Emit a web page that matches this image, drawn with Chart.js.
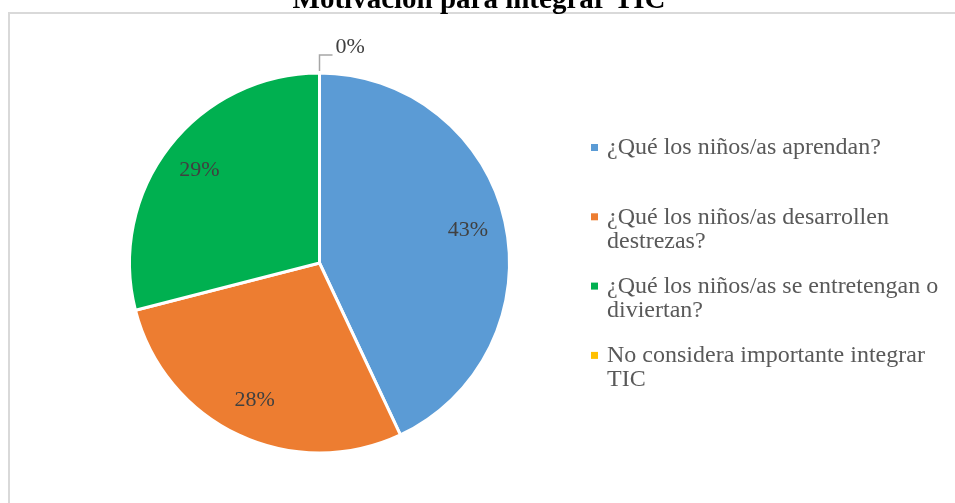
<!DOCTYPE html>
<html>
<head>
<meta charset="utf-8">
<script src="https://cdn.jsdelivr.net/npm/chart.js@4.4.0/dist/chart.umd.min.js"></script>
<style>
  html, body { margin: 0; padding: 0; background: #ffffff; overflow: hidden; }
  #wrap { position: relative; width: 955px; height: 503px; }
</style>
</head>
<body>
<div id="wrap"><canvas id="c" width="955" height="503"></canvas></div>
<script>
const chartTitle = "Motivación para integrar TIC";
const categories = [
  "¿Qué los niños/as aprendan?",
  "¿Qué los niños/as desarrollen destrezas?",
  "¿Qué los niños/as se entretengan o diviertan?",
  "No considera importante integrar TIC"
];
const percentages = [43, 28, 29, 0];
const sliceColors = ["#5B9BD5", "#ED7D31", "#00B050", "#FFC000"];

const SERIF = "'Liberation Serif', 'Times New Roman', serif";

const decorPlugin = {
  id: 'decor',
  beforeDraw(chart) {
    const ctx = chart.ctx;
    ctx.save();
    ctx.fillStyle = '#ffffff';
    ctx.fillRect(0, 0, chart.width, chart.height);
    // outer chart frame (top and left visible)
    ctx.strokeStyle = '#d9d9d9';
    ctx.lineWidth = 2;
    ctx.beginPath();
    ctx.moveTo(9, chart.height + 5);
    ctx.lineTo(9, 13);
    ctx.lineTo(chart.width + 5, 13);
    ctx.stroke();
    // title (clipped at the top)
    ctx.fillStyle = '#000000';
    ctx.font = "bold 29px " + SERIF;
    ctx.textAlign = 'center';
    ctx.textBaseline = 'alphabetic';
    ctx.fillText(chartTitle, 479, 8);
    ctx.restore();
  },
  afterDatasetsDraw(chart) {
    const ctx = chart.ctx;
    const meta = chart.getDatasetMeta(0);
    const data = chart.data.datasets[0].data;
    ctx.save();
    ctx.font = "22px " + SERIF;
    ctx.fillStyle = '#404040';
    ctx.textAlign = 'center';
    ctx.textBaseline = 'middle';
    meta.data.forEach((arc, i) => {
      const p = arc.getProps(['x', 'y', 'startAngle', 'endAngle', 'outerRadius'], true);
      const mid = (p.startAngle + p.endAngle) / 2;
      const txt = data[i] + '%';
      if (data[i] > 0) {
        const r = p.outerRadius * 0.8;
        ctx.fillText(txt, p.x + Math.cos(mid) * r, p.y + Math.sin(mid) * r);
      } else {
        // leader line for zero-sized slice
        const ex = p.x + Math.cos(mid) * p.outerRadius;
        const ey = p.y + Math.sin(mid) * p.outerRadius;
        ctx.strokeStyle = '#a6a6a6';
        ctx.lineWidth = 1.5;
        ctx.beginPath();
        ctx.moveTo(ex, ey - 2);
        ctx.lineTo(ex, ey - 18);
        ctx.lineTo(ex + 13, ey - 18);
        ctx.stroke();
        ctx.textAlign = 'left';
        ctx.fillText(txt, ex + 16, ey - 26);
        ctx.textAlign = 'center';
      }
    });
    ctx.restore();
  },
  afterDraw(chart) {
    // legend on the right
    const ctx = chart.ctx;
    const colors = chart.data.datasets[0].backgroundColor;
    ctx.save();
    ctx.font = "24px " + SERIF;
    ctx.textAlign = 'left';
    ctx.textBaseline = 'middle';
    const x0 = 591, tx = 607, maxW = 340, lineH = 24, itemH = 69.3, y0 = 148;
    chart.data.labels.forEach((lab, i) => {
      const words = lab.split(' ');
      const lines = [];
      let cur = '';
      words.forEach(w => {
        const test = cur ? cur + ' ' + w : w;
        if (ctx.measureText(test).width > maxW && cur) { lines.push(cur); cur = w; }
        else cur = test;
      });
      if (cur) lines.push(cur);
      const yc = y0 + itemH * i;
      ctx.fillStyle = colors[i];
      ctx.fillRect(x0, yc - 4, 7, 7);
      ctx.fillStyle = '#595959';
      lines.forEach((ln, k) => ctx.fillText(ln, tx, yc + k * lineH));
    });
    ctx.restore();
  }
};

new Chart(document.getElementById('c'), {
  type: 'pie',
  data: {
    labels: categories,
    datasets: [{
      data: percentages,
      backgroundColor: sliceColors,
      borderColor: '#ffffff',
      borderWidth: 3
    }]
  },
  options: {
    responsive: false,
    animation: false,
    devicePixelRatio: 1,
    layout: { padding: { left: 128, right: 444, top: 71.5, bottom: 48.5 } },
    plugins: {
      legend: { display: false },
      title: { display: false },
      tooltip: { enabled: false }
    }
  },
  plugins: [decorPlugin]
});
</script>
</body>
</html>
